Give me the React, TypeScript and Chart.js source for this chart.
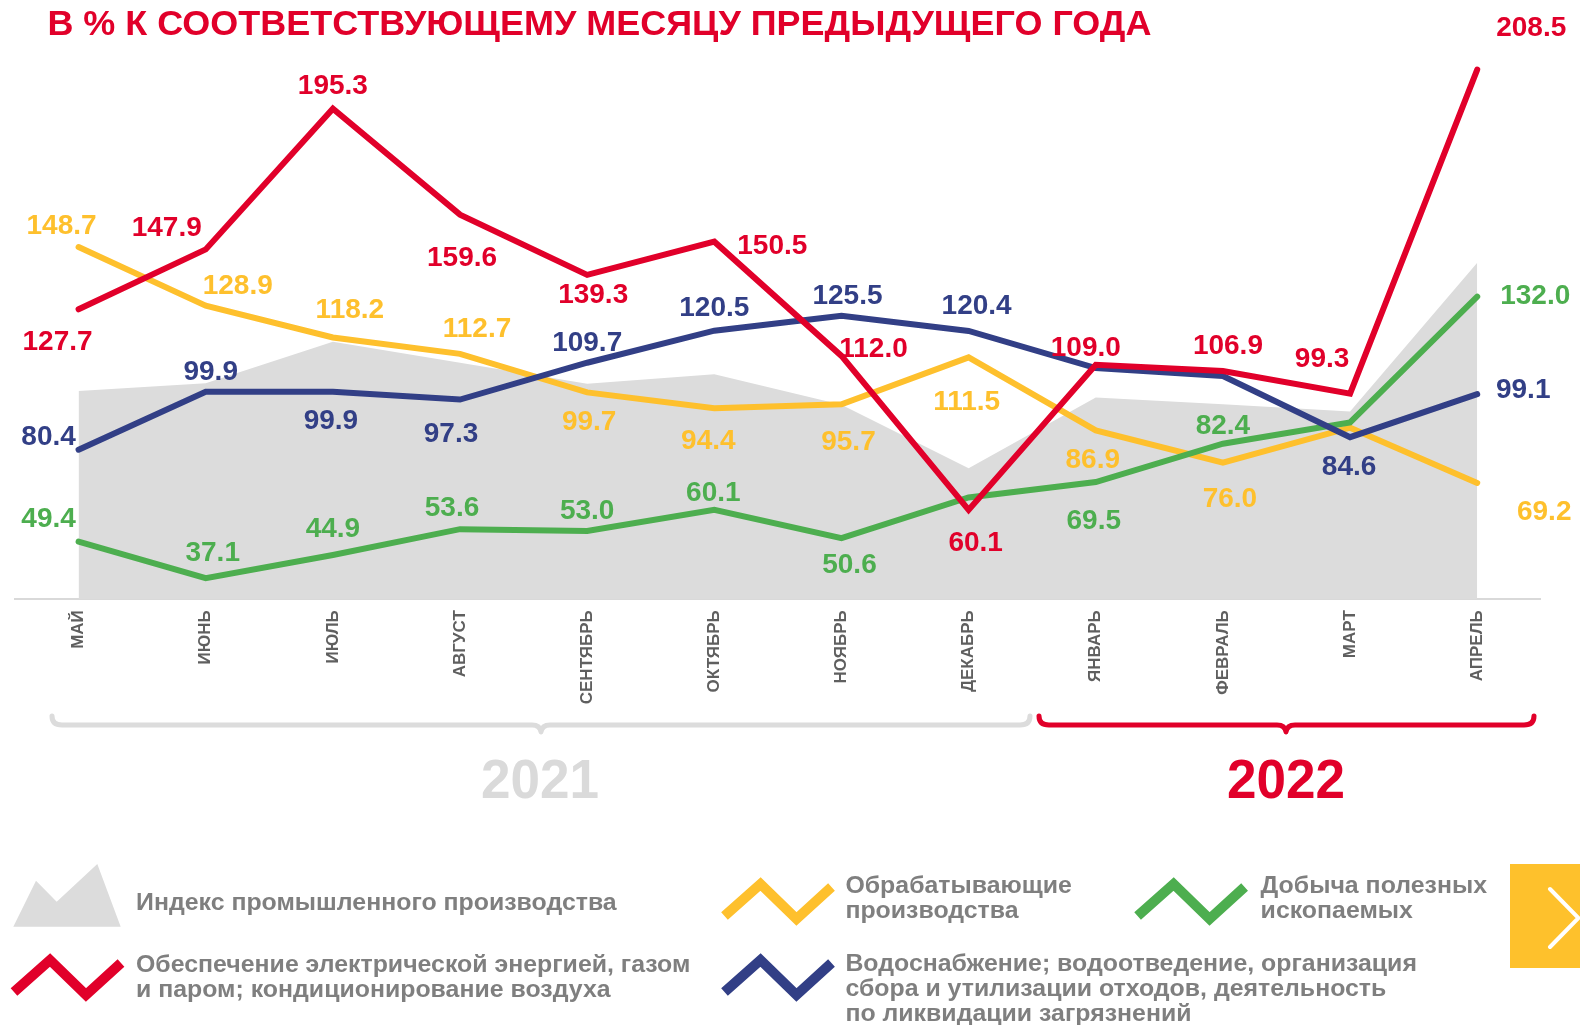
import React, { useEffect, useRef } from 'react';
import { Chart, registerables } from 'chart.js';

Chart.register(...registerables);

// ---------- DATA ----------
const months = ['МАЙ', 'ИЮНЬ', 'ИЮЛЬ', 'АВГУСТ', 'СЕНТЯБРЬ', 'ОКТЯБРЬ', 'НОЯБРЬ', 'ДЕКАБРЬ', 'ЯНВАРЬ', 'ФЕВРАЛЬ', 'МАРТ', 'АПРЕЛЬ'];
const industrialIndex = [100.2, 102.8, 116.8, 109.7, 102.6, 105.8, 95.5, 74.1, 98.0, 95.7, 93.3, 143.4];
const electricity = [127.7, 147.9, 195.3, 159.6, 139.3, 150.5, 112.0, 60.1, 109.0, 106.9, 99.3, 208.5];
const manufacturing = [148.7, 128.9, 118.2, 112.7, 99.7, 94.4, 95.7, 111.5, 86.9, 76.0, 87.8, 69.2];
const mining = [49.4, 37.1, 44.9, 53.6, 53.0, 60.1, 50.6, 64.3, 69.5, 82.4, 89.6, 132.0];
const water = [80.4, 99.9, 99.9, 97.3, 109.7, 120.5, 125.5, 120.4, 107.9, 105.2, 84.6, 99.1];

const TITLE = 'В % К СООТВЕТСТВУЮЩЕМУ МЕСЯЦУ ПРЕДЫДУЩЕГО ГОДА';
const yearLabels = ['2021', '2022'];
const legendIndex = ['Индекс промышленного производства'];
const legendElectricity = ['Обеспечение электрической энергией, газом', 'и паром; кондиционирование воздуха'];
const legendManufacturing = ['Обрабатывающие', 'производства'];
const legendMining = ['Добыча полезных', 'ископаемых'];
const legendWater = ['Водоснабжение; водоотведение, организация', 'сбора и утилизации отходов, деятельность', 'по ликвидации загрязнений'];

// ---------- STYLE ----------
const RED = '#E1002A';
const YELLOW = '#FEC02D';
const GREEN = '#4DAE4F';
const NAVY = '#323F86';
const GRAY_AREA = '#DCDCDC';
const LEGEND_TEXT = '#7F7F7F';
const FONT = '"Liberation Sans", Arial, sans-serif';

// label offsets (dx, dy) relative to the point, null = no label
const electricityLabelPos = [[-21, 31], [-39, -23], [0, -25], [2, 41], [6, 18], [58, 2], [32, -9], [7, 31], [-10, -19], [5, -27], [-28, -37], [54, -44]];
const manufacturingLabelPos = [[-17, -23], [32, -22], [17, -30], [17, -27], [2, 28], [-6, 31], [7, 36], [-2, 43], [-3, 28], [7, 34], null, [67, 27]];
const miningLabelPos = [[-30, -25], [7, -27], [0, -28], [-8, -23], [0, -22], [-1, -19], [8, 25], null, [-2, 37], [0, -20], null, [58, -3]];
const waterLabelPos = [[-30, -15], [5, -22], [-2, 27], [-9, 32], [0, -22], [0, -25], [6, -22], [8, -27], null, null, [-1, 28], [46, -6]];

function drawNarrowText(ctx: CanvasRenderingContext2D, text: string, x: number, y: number, size: number, sx: number, color: string, align: CanvasTextAlign = 'left') {
  ctx.save();
  ctx.font = `bold ${size}px ${FONT}`;
  ctx.fillStyle = color;
  ctx.textBaseline = 'alphabetic';
  ctx.textAlign = align;
  ctx.translate(x, y);
  ctx.scale(sx, 1);
  ctx.fillText(text, 0, 0);
  ctx.restore();
}

function scaleFor(ctx: CanvasRenderingContext2D, text: string, size: number, target: number) {
  ctx.save();
  ctx.font = `bold ${size}px ${FONT}`;
  const w = ctx.measureText(text).width;
  ctx.restore();
  return target / w;
}

function drawBracket(ctx: CanvasRenderingContext2D, x0: number, x1: number, cx: number, color: string) {
  const yTop = 716;
  const y = 725;
  const yTip = 732;
  const r = 10;
  ctx.save();
  ctx.strokeStyle = color;
  ctx.lineWidth = 5;
  ctx.lineCap = 'round';
  ctx.lineJoin = 'round';
  ctx.beginPath();
  ctx.moveTo(x0, yTop);
  ctx.quadraticCurveTo(x0, y, x0 + r, y);
  ctx.lineTo(cx - 9, y);
  ctx.quadraticCurveTo(cx - 1, y, cx, yTip);
  ctx.quadraticCurveTo(cx + 1, y, cx + 9, y);
  ctx.lineTo(x1 - r, y);
  ctx.quadraticCurveTo(x1, y, x1, yTop);
  ctx.stroke();
  ctx.restore();
}

function drawZigzag(ctx: CanvasRenderingContext2D, ox: number, oy: number, color: string) {
  ctx.save();
  ctx.strokeStyle = color;
  ctx.lineWidth = 10;
  ctx.lineJoin = 'miter';
  ctx.lineCap = 'butt';
  ctx.beginPath();
  ctx.moveTo(ox + 14, oy + 992);
  ctx.lineTo(ox + 50, oy + 960);
  ctx.lineTo(ox + 86, oy + 995);
  ctx.lineTo(ox + 121, oy + 963);
  ctx.stroke();
  ctx.restore();
}

const overlayPlugin = {
  id: 'overlay',
  afterDatasetsDraw(chart: any) {
    const ctx: CanvasRenderingContext2D = chart.ctx;
    const series = [
      { idx: 0, values: electricity, pos: electricityLabelPos, color: RED },
      { idx: 1, values: water, pos: waterLabelPos, color: NAVY },
      { idx: 2, values: mining, pos: miningLabelPos, color: GREEN },
      { idx: 3, values: manufacturing, pos: manufacturingLabelPos, color: YELLOW },
    ];
    ctx.save();
    ctx.font = `bold 28px ${FONT}`;
    ctx.textAlign = 'center';
    ctx.textBaseline = 'alphabetic';
    series.forEach((s) => {
      const meta = chart.getDatasetMeta(s.idx);
      s.values.forEach((v, i) => {
        const p = s.pos[i];
        if (!p) return;
        const el = meta.data[i];
        ctx.fillStyle = s.color;
        ctx.fillText(v.toFixed(1), el.x + p[0], el.y + p[1] + 10);
      });
    });
    ctx.restore();
  },
  afterDraw(chart: any) {
    const ctx: CanvasRenderingContext2D = chart.ctx;
    // Title
    const ts = scaleFor(ctx, TITLE, 35, 1104);
    drawNarrowText(ctx, TITLE, 47.4, 35, 35, ts, RED);

    // Brackets and years
    drawBracket(ctx, 52, 1030, 541, '#DCDCDC');
    drawBracket(ctx, 1039, 1534, 1286, RED);
    const ys = scaleFor(ctx, yearLabels[1], 56, 118);
    drawNarrowText(ctx, yearLabels[0], 540, 798, 56, ys, '#DADADA', 'center');
    drawNarrowText(ctx, yearLabels[1], 1286, 798, 56, ys, RED, 'center');

    // Legend
    const ls = scaleFor(ctx, legendIndex[0], 23, 480.7);
    ctx.save();
    ctx.fillStyle = GRAY_AREA;
    ctx.beginPath();
    ctx.moveTo(13.3, 926.7);
    ctx.lineTo(36, 880.7);
    ctx.lineTo(56.7, 901.7);
    ctx.lineTo(97.3, 864);
    ctx.lineTo(120.7, 926.7);
    ctx.closePath();
    ctx.fill();
    ctx.restore();
    drawNarrowText(ctx, legendIndex[0], 136, 910, 23, ls, LEGEND_TEXT);

    drawZigzag(ctx, 0, 0, RED);
    legendElectricity.forEach((t, i) => drawNarrowText(ctx, t, 136, 971.5 + i * 25, 23, ls, LEGEND_TEXT));

    drawZigzag(ctx, 710.5, -76, YELLOW);
    legendManufacturing.forEach((t, i) => drawNarrowText(ctx, t, 845.4, 893 + i * 25, 23, ls, LEGEND_TEXT));

    drawZigzag(ctx, 1123.6, -76, GREEN);
    legendMining.forEach((t, i) => drawNarrowText(ctx, t, 1260.6, 893 + i * 25, 23, ls, LEGEND_TEXT));

    drawZigzag(ctx, 710.5, 0, NAVY);
    legendWater.forEach((t, i) => drawNarrowText(ctx, t, 845.4, 971 + i * 25, 23, ls, LEGEND_TEXT));

    // Yellow "next" box
    ctx.save();
    ctx.fillStyle = '#FEC12C';
    ctx.fillRect(1510, 864, 70, 104);
    ctx.strokeStyle = '#FFFFFF';
    ctx.lineWidth = 4;
    ctx.lineCap = 'round';
    ctx.lineJoin = 'miter';
    ctx.beginPath();
    ctx.moveTo(1550, 889);
    ctx.lineTo(1578.5, 918);
    ctx.lineTo(1550, 947);
    ctx.stroke();
    ctx.restore();
  },
};

export default function App() {
  const canvasRef = useRef<HTMLCanvasElement | null>(null);

  useEffect(() => {
    const canvas = canvasRef.current;
    if (!canvas) return;
    const lineDs = (label: string, data: number[], color: string) => ({
      label,
      data,
      borderColor: color,
      backgroundColor: color,
      borderWidth: 6,
      pointRadius: 0,
      pointHoverRadius: 0,
      tension: 0,
      fill: false,
      borderCapStyle: 'round' as const,
      borderJoinStyle: 'miter' as const,
    });
    const chart = new Chart(canvas, {
      type: 'line',
      data: {
        labels: months,
        datasets: [
          lineDs(legendElectricity.join(' '), electricity, RED),
          lineDs(legendWater.join(' '), water, NAVY),
          lineDs(legendMining.join(' '), mining, GREEN),
          lineDs(legendManufacturing.join(' '), manufacturing, YELLOW),
          {
            label: legendIndex[0],
            data: industrialIndex,
            borderColor: 'rgba(0,0,0,0)',
            backgroundColor: GRAY_AREA,
            borderWidth: 0,
            pointRadius: 0,
            tension: 0,
            fill: 'start',
          },
        ],
      },
      options: {
        responsive: false,
        animation: false,
        devicePixelRatio: 1,
        layout: { padding: { left: 15, right: 39.2, top: 5.8, bottom: 305.8 } },
        plugins: {
          legend: { display: false },
          tooltip: { enabled: false },
          title: { display: false },
        },
        scales: {
          x: {
            offset: true,
            grid: { display: false, drawTicks: false },
            border: { display: true, color: '#D9D9D9', width: 2 },
            ticks: {
              autoSkip: false,
              minRotation: 90,
              maxRotation: 90,
              padding: 11,
              color: '#5F5F5F',
              font: { family: FONT, size: 17, weight: 'bold' },
            },
            afterFit: (scale: any) => {
              scale.height = 120;
            },
          },
          y: {
            display: false,
            min: 30,
            max: 230,
          },
        },
      },
      plugins: [overlayPlugin],
    } as any);
    return () => chart.destroy();
  }, []);

  return (
    <div style={{ position: 'fixed', left: 0, top: 0, width: 1580, height: 1025, background: '#fff' }}>
      <canvas ref={canvasRef} width={1580} height={1025} style={{ display: 'block' }} />
    </div>
  );
}
